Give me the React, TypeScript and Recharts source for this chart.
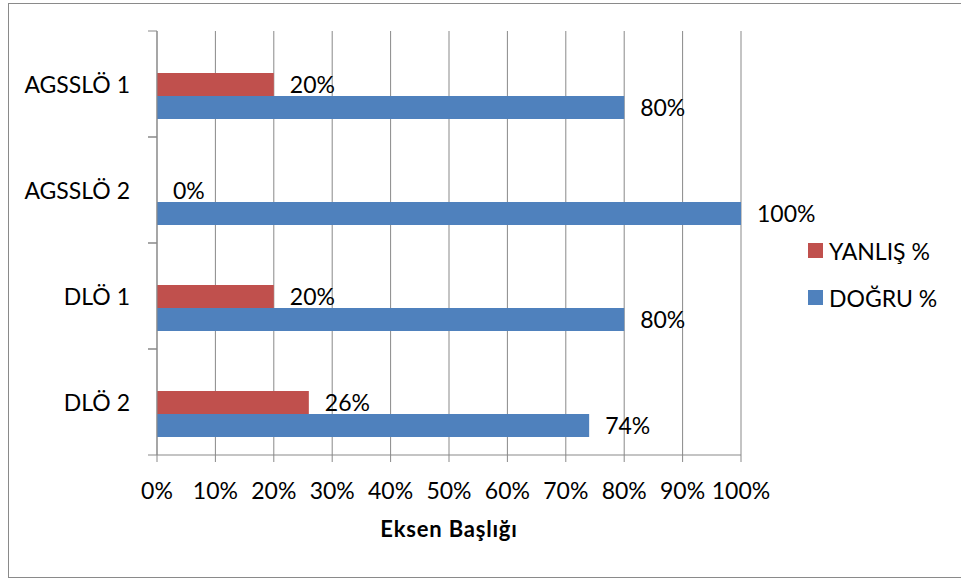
import React from 'react';
import {
  BarChart,
  Bar,
  XAxis,
  YAxis,
  CartesianGrid,
  Legend,
  LabelList
} from 'recharts';

const categories = ['AGSSLÖ 1', 'AGSSLÖ 2', 'DLÖ 1', 'DLÖ 2'];
const yanlis = [20, 0, 20, 26];
const dogru = [80, 100, 80, 74];
const xTicks = [0, 10, 20, 30, 40, 50, 60, 70, 80, 90, 100];
const legendOrder = ['YANLIŞ %', 'DOĞRU %'];

const data = categories.map((name, i) => ({
  name,
  yanlis: yanlis[i],
  dogru: dogru[i]
}));

const FONT = 'Lato, "Open Sans", sans-serif';
const GRID = '#898989';
const RED = '#C0504D';
const BLUE = '#4F81BD';

const pct = (v: number) => `${v}%`;

function CategoryTick(props: any) {
  const { x, y, payload } = props;
  const half = payload?.offset ?? 53;
  return (
    <g>
      <line x1={x - 9} x2={x} y1={y - half} y2={y - half} stroke={GRID} />
      <line x1={x - 9} x2={x} y1={y + half} y2={y + half} stroke={GRID} />
      <text
        x={x - 27}
        y={y}
        textAnchor="end"
        dominantBaseline="central"
        fill="#000"
        fontSize={23}
        fontFamily={FONT}
      >
        {payload.value}
      </text>
    </g>
  );
}

function LegendBox({ payload }: any) {
  const items = legendOrder
    .map((name) => (payload || []).find((p: any) => p.value === name))
    .filter(Boolean);
  return (
    <div style={{ fontFamily: FONT, fontSize: 23, color: '#000' }}>
      {items.map((p: any) => (
        <div
          key={p.value}
          style={{ height: 47, display: 'flex', alignItems: 'center' }}
        >
          <span
            style={{
              width: 15,
              height: 15,
              background: p.color,
              display: 'inline-block',
              marginRight: 6
            }}
          />
          <span>{p.value}</span>
        </div>
      ))}
    </div>
  );
}

export default function App() {
  return (
    <div
      style={{
        position: 'absolute',
        left: 8,
        top: 3,
        width: 953,
        height: 575,
        boxSizing: 'border-box',
        borderTop: '1px solid #8a8a8a',
        borderLeft: '1px solid #8a8a8a',
        borderBottom: '1px solid #8a8a8a',
        background: '#fff'
      }}
    >
      <BarChart
        width={952}
        height={572}
        data={data}
        layout="vertical"
        barSize={23}
        barGap={0}
        margin={{ top: 27, right: 220, bottom: 0, left: 0 }}
      >
        <CartesianGrid horizontal={false} stroke={GRID} />
        <XAxis
          type="number"
          domain={[0, 100]}
          ticks={xTicks}
          tickFormatter={pct}
          interval={0}
          height={121}
          stroke={GRID}
          tickSize={7}
          tickMargin={21}
          tick={{ fill: '#000', fontSize: 23, fontFamily: FONT }}
          label={{
            value: 'Eksen Başlığı',
            position: 'insideBottom',
            offset: 39,
            fill: '#000',
            fontSize: 22,
            fontWeight: 'bold',
            letterSpacing: 0.8,
            fontFamily: FONT
          }}
        />
        <YAxis
          type="category"
          dataKey="name"
          width={148}
          stroke={GRID}
          tickLine={false}
          tickSize={0}
          tickMargin={0}
          tick={<CategoryTick />}
        />
        <Legend
          layout="vertical"
          align="center"
          verticalAlign="middle"
          content={<LegendBox />}
          wrapperStyle={{ left: 799, top: 223, width: 150 }}
        />
        <Bar
          dataKey={() => 0}
          name="spacer"
          legendType="none"
          fill="transparent"
          isAnimationActive={false}
        />
        <Bar
          dataKey="yanlis"
          name="YANLIŞ %"
          fill={RED}
          minPointSize={0.01}
          isAnimationActive={false}
        >
          <LabelList
            dataKey="yanlis"
            position="right"
            offset={16}
            formatter={pct}
            fill="#000"
            fontSize={23}
            fontFamily={FONT}
          />
        </Bar>
        <Bar dataKey="dogru" name="DOĞRU %" fill={BLUE} isAnimationActive={false}>
          <LabelList
            dataKey="dogru"
            position="right"
            offset={16}
            formatter={pct}
            fill="#000"
            fontSize={23}
            fontFamily={FONT}
          />
        </Bar>
      </BarChart>
    </div>
  );
}
